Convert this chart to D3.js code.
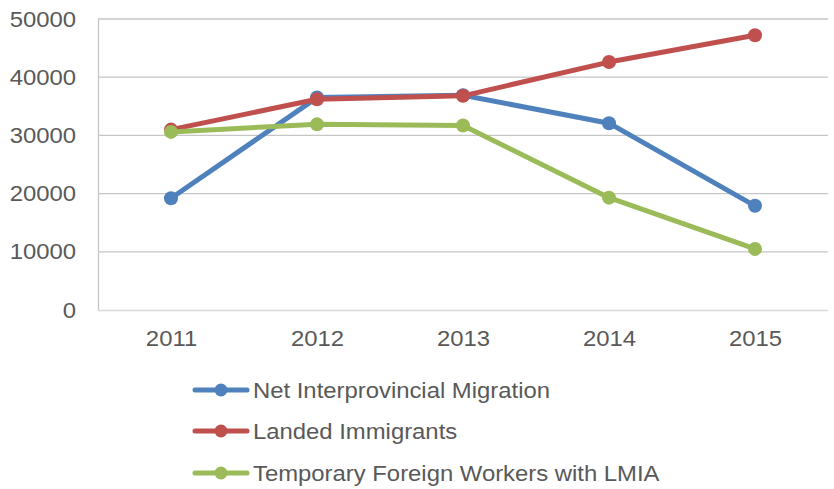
<!DOCTYPE html>
<html>
<head>
<meta charset="utf-8">
<script src="https://cdn.jsdelivr.net/npm/d3@7"></script>
<style>
  html, body { margin: 0; padding: 0; background: #fff; }
  svg { display: block; }
</style>
</head>
<body>
<svg id="chart" width="834" height="489"></svg>
<script>
// Categories and series
const years = ["2011", "2012", "2013", "2014", "2015"];
const netInterprovincial = [19200, 36500, 36900, 32100, 17900];
const landedImmigrants = [31000, 36200, 36800, 42600, 47200];
const temporaryForeignWorkers = [30600, 31900, 31700, 19300, 10500];
const seriesNames = ["Net Interprovincial Migration", "Landed Immigrants", "Temporary Foreign Workers with LMIA"];
const yTicks = [0, 10000, 20000, 30000, 40000, 50000];

const seriesColors = ["#4f81bd", "#c0504d", "#9bbb59"];
const series = [netInterprovincial, landedImmigrants, temporaryForeignWorkers].map((vals, i) => ({
  name: seriesNames[i], color: seriesColors[i], values: vals
}));

const svg = d3.select("#chart");
const plot = { left: 98, right: 828, top: 19, bottom: 310 };
const font = "'Liberation Sans', Arial, sans-serif";
const fontSize = 22;
const widen = 1.085;          // slightly wide lettering
const textColor = "#595959";

const x = d3.scalePoint().domain(years).range([plot.left, plot.right]).padding(0.5);
const y = d3.scaleLinear().domain([0, 50000]).range([plot.bottom, plot.top]);

// Horizontal gridlines
svg.append("g")
  .selectAll("line")
  .data(yTicks.filter(t => t > 0))
  .join("line")
  .attr("x1", plot.left).attr("x2", plot.right)
  .attr("y1", d => y(d)).attr("y2", d => y(d))
  .attr("stroke", "#c6c6c6").attr("stroke-width", 1.3);

// Y axis
const yAxis = svg.append("g")
  .attr("transform", `translate(${plot.left},0)`)
  .call(d3.axisLeft(y).tickValues(yTicks).tickSize(0).tickPadding(22).tickFormat(d3.format("d")));
yAxis.select(".domain").attr("stroke", "#c6c6c6").attr("stroke-width", 1.3);
yAxis.selectAll("text")
  .attr("x", -22 / widen)
  .attr("transform", `scale(${widen},1)`)
  .attr("font-family", font).attr("font-size", fontSize).attr("fill", textColor);

// X axis
const xAxis = svg.append("g")
  .attr("transform", `translate(0,${plot.bottom})`)
  .call(d3.axisBottom(x).tickSize(0).tickPadding(20));
xAxis.select(".domain").attr("d", `M${plot.left},0.5H${plot.right}`).attr("stroke", "#d9d9d9").attr("stroke-width", 1.3);
xAxis.selectAll("text")
  .attr("transform", `scale(${widen},1)`)
  .attr("font-family", font).attr("font-size", fontSize).attr("fill", textColor);

// Lines and markers
const line = d3.line().x((d, i) => x(years[i])).y(d => y(d));
const g = svg.append("g");
series.forEach(s => {
  g.append("path")
    .datum(s.values)
    .attr("d", line)
    .attr("fill", "none")
    .attr("stroke", s.color)
    .attr("stroke-width", 5)
    .attr("stroke-linejoin", "round")
    .attr("stroke-linecap", "round");
  g.selectAll(null)
    .data(s.values)
    .join("circle")
    .attr("cx", (d, i) => x(years[i]))
    .attr("cy", d => y(d))
    .attr("r", 7)
    .attr("fill", s.color);
});

// Legend
const legend = svg.append("g");
const rowY = [390, 431, 473];
series.forEach((s, i) => {
  const row = legend.append("g").attr("transform", `translate(0,${rowY[i]})`);
  row.append("line")
    .attr("x1", 195).attr("x2", 247).attr("y1", 0).attr("y2", 0)
    .attr("stroke", s.color).attr("stroke-width", 5).attr("stroke-linecap", "round");
  row.append("circle").attr("cx", 221).attr("cy", 0).attr("r", 6.5).attr("fill", s.color);
  row.append("text")
    .attr("transform", `translate(253,0) scale(${widen},1)`)
    .attr("dy", "0.35em")
    .attr("font-family", font).attr("font-size", fontSize).attr("fill", textColor)
    .text(s.name);
});
</script>
</body>
</html>
